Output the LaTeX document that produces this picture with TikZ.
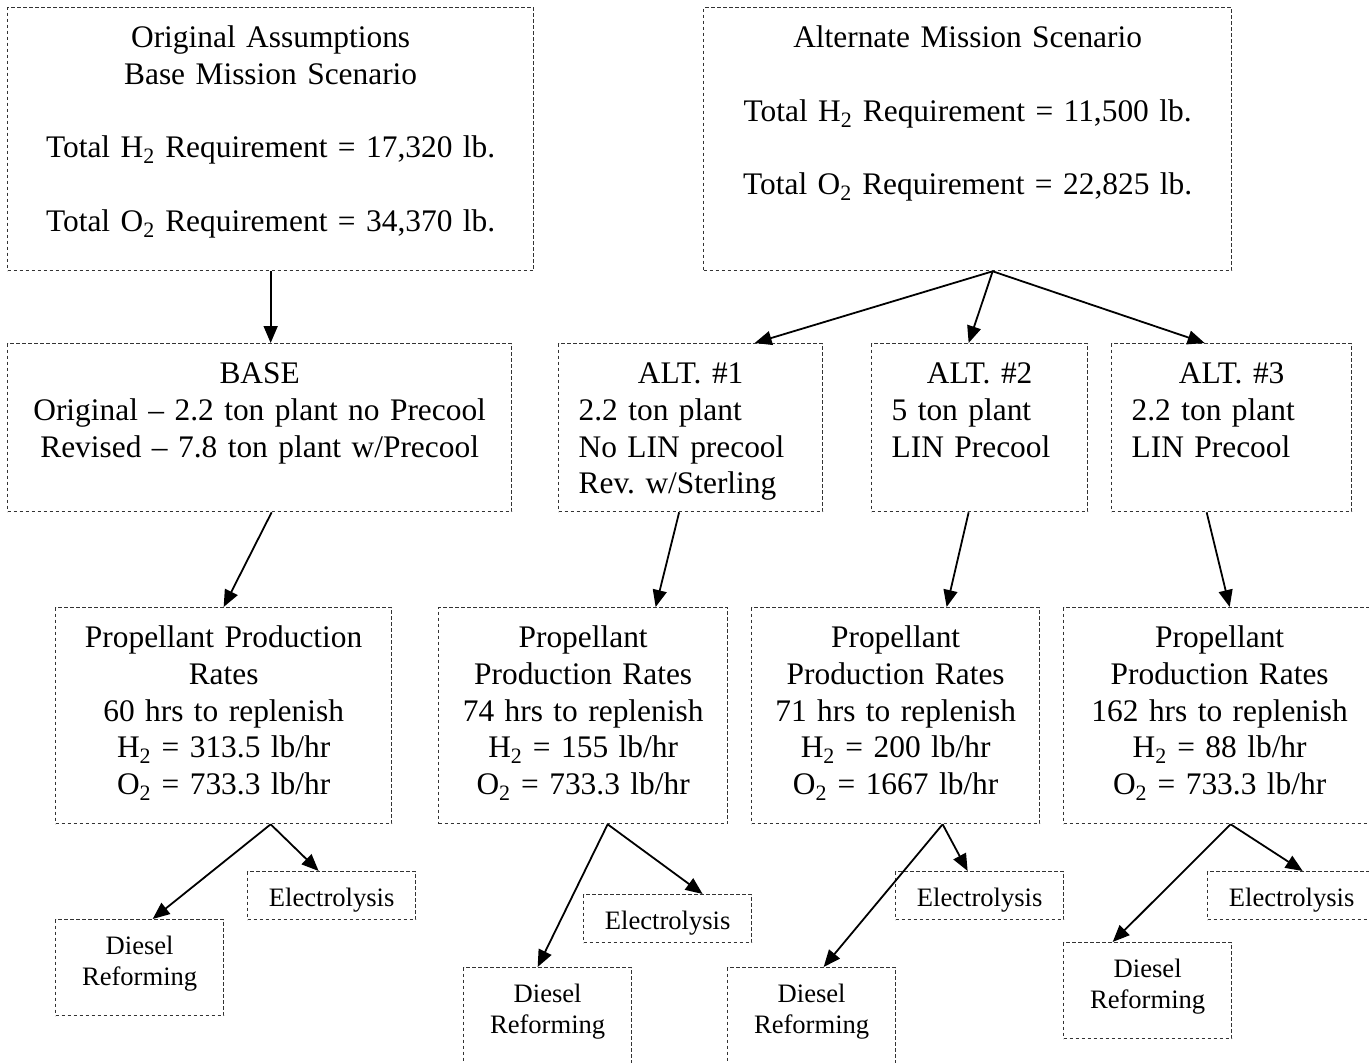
\documentclass[tikz,border=0pt]{standalone}
\usepackage{fontspec}
\setmainfont{Liberation Serif}
\usetikzlibrary{arrows.meta}
\frenchspacing

\begin{document}
\begin{tikzpicture}[x=1pt, y=-1pt,
    bigbox/.style={draw=black!80, line width=1.3pt, dash pattern=on 3.5pt off 2.5pt,
        anchor=north west, inner sep=0pt, align=center,
        font=\fontsize{31.4}{36.7}\selectfont, text height=40pt},
    altbox/.style={bigbox, align=left, inner xsep=20pt},
    smallbox/.style={bigbox, font=\fontsize{26.6}{31}\selectfont, text height=35pt, text width=168pt},
    arrow/.style={-{Triangle[length=17pt, width=14pt]}, line width=1.8pt},
]
    \clip (0,0) rectangle (1369,1063);

    % mission scenarios
    \node[bigbox, text width=526pt, text depth=223pt] (orig) at (7,7)
        {Original Assumptions\\Base Mission Scenario\\[36.7pt]Total H\textsubscript{2} Requirement = 17,320 lb.\\[36.7pt]Total O\textsubscript{2} Requirement = 34,370 lb.};
    \node[bigbox, text width=528pt, text depth=223pt] (alt) at (703,7)
        {Alternate Mission Scenario\\[36.7pt]Total H\textsubscript{2} Requirement = 11,500 lb.\\[36.7pt]Total O\textsubscript{2} Requirement = 22,825 lb.};

    % plant options
    \node[bigbox, text width=504pt, text depth=128pt] (base) at (7,343)
        {BASE\\Original -- 2.2 ton plant no Precool\\Revised -- 7.8 ton plant w/Precool};
    \node[altbox, text width=224pt, text depth=128pt] (alt1) at (558,343)
        {\makebox[\linewidth]{ALT. \#1}\\2.2 ton plant\\No LIN precool\\Rev. w/Sterling};
    \node[altbox, text width=176pt, text depth=128pt] (alt2) at (871,343)
        {\makebox[\linewidth]{ALT. \#2}\\5 ton plant\\LIN Precool};
    \node[altbox, text width=200pt, text depth=128pt] (alt3) at (1111,343)
        {\makebox[\linewidth]{ALT. \#3}\\2.2 ton plant\\LIN Precool};

    % production rates
    \node[bigbox, text width=336pt, text depth=176pt] (prop1) at (55,607)
        {Propellant Production\\Rates\\60 hrs to replenish\\H\textsubscript{2} = 313.5 lb/hr\\O\textsubscript{2} = 733.3 lb/hr};
    \node[bigbox, text width=289pt, text depth=176pt] (prop2) at (438,607)
        {Propellant\\Production Rates\\74 hrs to replenish\\H\textsubscript{2} = 155 lb/hr\\O\textsubscript{2} = 733.3 lb/hr};
    \node[bigbox, text width=288pt, text depth=176pt] (prop3) at (751,607)
        {Propellant\\Production Rates\\71 hrs to replenish\\H\textsubscript{2} = 200 lb/hr\\O\textsubscript{2} = 1667 lb/hr};
    \node[bigbox, text width=312pt, text depth=176pt] (prop4) at (1063,607)
        {Propellant\\Production Rates\\162 hrs to replenish\\H\textsubscript{2} = 88 lb/hr\\O\textsubscript{2} = 733.3 lb/hr};

    % production methods
    \foreach \n/\ex/\ey/\dx/\dy in {1/247/871/55/919, 2/583/894/463/967, 3/895/871/727/967, 4/1207/871/1063/942} {
        \node[smallbox, text depth=13pt] (elec\n) at (\ex,\ey) {Electrolysis};
        \node[smallbox, text depth=61pt] (dies\n) at (\dx,\dy) {Diesel\\Reforming};
    }

    \draw[arrow] (orig.south) -- (orig.south |- base.north);
    \draw[arrow] ([xshift=25pt]alt.south) -- ([xshift=64pt]alt1.north);
    \draw[arrow] ([xshift=25pt]alt.south) -- ([xshift=-11pt]alt2.north);
    \draw[arrow] ([xshift=25pt]alt.south) -- ([xshift=-27pt]alt3.north);

    \draw[arrow] ([xshift=12pt]base.south) -- (prop1.north);
    \draw[arrow] ([xshift=-11.5pt]alt1.south) -- ([xshift=72.5pt]prop2.north);
    \draw[arrow] ([xshift=-11pt]alt2.south) -- ([xshift=51pt]prop3.north);
    \draw[arrow] ([xshift=-25pt]alt3.south) -- ([xshift=10pt]prop4.north);

    \foreach \n/\s/\e/\d in {1/47/-13/13, 2/24.5/35/-10, 3/47/-12/12, 4/11/11/-35} {
        \draw[arrow] ([xshift=\s pt]prop\n.south) -- ([xshift=\e pt]elec\n.north);
        \draw[arrow] ([xshift=\s pt]prop\n.south) -- ([xshift=\d pt]dies\n.north);
    }
\end{tikzpicture}
\end{document}
